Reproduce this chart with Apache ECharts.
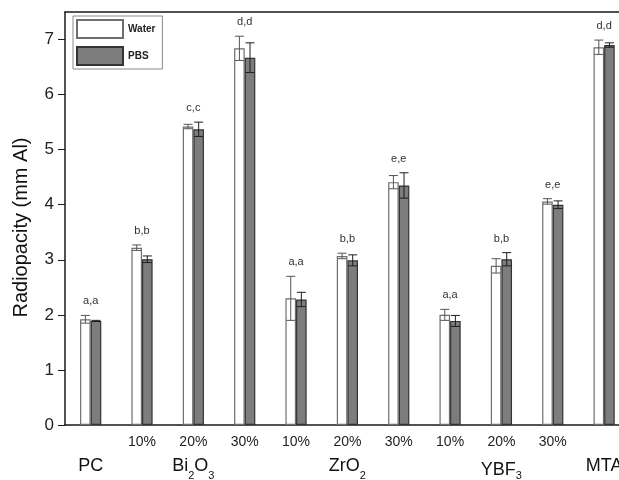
<!DOCTYPE html>
<html>
<head>
<meta charset="utf-8">
<script src="https://cdn.jsdelivr.net/npm/echarts@6/dist/echarts.min.js"></script>
<style>
html,body{margin:0;padding:0;background:#fff;}
#c{width:619px;height:480px;}
</style>
</head>
<body>
<div id="c"></div>
<script>
// ---- data ----
const percentLabels = ['', '10%', '20%', '30%', '10%', '20%', '30%', '10%', '20%', '30%', ''];
const groupLabels   = ['PC', '', 'Bi_2O_3', '', '', 'ZrO_2', '', '', 'YBF_3', '', 'MTA'];
const waterValues = [1.92, 3.22, 5.42, 6.84, 2.30, 3.07, 4.41, 2.00, 2.89, 4.06, 6.86];
const waterErrors = [0.07, 0.05, 0.04, 0.22, 0.40, 0.05, 0.12, 0.10, 0.13, 0.05, 0.13];
const pbsValues   = [1.89, 3.01, 5.37, 6.67, 2.28, 2.99, 4.35, 1.89, 3.01, 4.00, 6.90];
const pbsErrors   = [0.01, 0.06, 0.13, 0.27, 0.13, 0.10, 0.23, 0.10, 0.12, 0.07, 0.04];
const letters     = ['a,a', 'b,b', 'c,c', 'd,d', 'a,a', 'b,b', 'e,e', 'a,a', 'b,b', 'e,e', 'd,d'];
const yTicks = [0, 1, 2, 3, 4, 5, 6, 7];
const seriesNames = ['Water', 'PBS'];

const FONT = '"Liberation Sans", Arial, Helvetica, sans-serif';
const idx = waterValues.map((_, i) => i);
const BAR_W = 10.6;

function groupRich(s, low) {
  if (!s) return '';
  let out = '';
  const parts = s.split(/_(\d)/);
  parts.forEach((p, k) => {
    if (p === '') return;
    out += (k % 2 === 1) ? '{' + (low ? 's2' : 's') + '|' + p + '}' : '{' + (low ? 'g2' : 'g') + '|' + p + '}';
  });
  return out;
}

function errRender(offset, stroke) {
  return function (params, api) {
    const x = api.value(0), v = api.value(1), e = api.value(2);
    const top = api.coord([x, v + e]);
    const bot = api.coord([x, v - e]);
    const cx = top[0] + offset;
    const hw = 4.5;
    const st = { stroke: stroke, lineWidth: 1 };
    return {
      type: 'group',
      children: [
        { type: 'line', shape: { x1: cx, y1: top[1], x2: cx, y2: bot[1] }, style: st },
        { type: 'line', shape: { x1: cx - hw, y1: top[1], x2: cx + hw, y2: top[1] }, style: st },
        { type: 'line', shape: { x1: cx - hw, y1: bot[1], x2: cx + hw, y2: bot[1] }, style: st }
      ]
    };
  };
}

const X_MIN = -0.5, X_MAX = 10.29;

const chart = echarts.init(document.getElementById('c'), null, { renderer: 'canvas' });
const option = {
  animation: false,
  backgroundColor: '#fff',
  textStyle: { fontFamily: FONT },
  grid: { left: 65, right: 0, top: 12, bottom: 55, containLabel: false, outerBoundsMode: 'none' },
  legend: {
    data: seriesNames,
    orient: 'vertical',
    left: 73,
    top: 16,
    itemWidth: 46,
    itemHeight: 18,
    itemGap: 7,
    padding: [3, 7, 3, 3],
    borderColor: '#8a8a8a',
    borderWidth: 1,
    icon: 'rect',
    textStyle: { fontFamily: FONT, fontSize: 10, fontWeight: 'bold', color: '#222' }
  },
  xAxis: [{
    type: 'value',
    min: X_MIN,
    max: X_MAX,
    position: 'bottom',
    splitLine: { show: false },
    axisTick: { show: false },
    axisLine: { show: true, onZero: false, lineStyle: { color: '#1a1a1a', width: 1.5 } },
    axisLabel: {
      customValues: idx,
      margin: 8,
      interval: 0,
      hideOverlap: false,
      formatter: function (val) {
        const i = Math.round(val);
        const p = percentLabels[i] || ' ';
        return '{p|' + p + '}\n' + (groupRich(groupLabels[i], i === 8) || '{g| }');
      },
      rich: {
        p: { fontFamily: FONT, fontSize: 14, color: '#222', lineHeight: 18 },
        g: { fontFamily: FONT, fontSize: 18, color: '#111', lineHeight: 30 },
        s: { fontFamily: FONT, fontSize: 11, color: '#111', lineHeight: 30, verticalAlign: 'bottom', padding: [8, 0, 0, 0] },
        g2: { fontFamily: FONT, fontSize: 18, color: '#111', lineHeight: 30, padding: [8, 0, 0, 0] },
        s2: { fontFamily: FONT, fontSize: 11, color: '#111', lineHeight: 30, verticalAlign: 'bottom', padding: [14, 0, 0, 0] }
      }
    }
  }, {
    type: 'value',
    min: X_MIN,
    max: X_MAX,
    position: 'top',
    splitLine: { show: false },
    axisTick: { show: false },
    axisLabel: { show: false },
    axisLine: { show: true, onZero: false, lineStyle: { color: '#1a1a1a', width: 1.5 } }
  }],
  yAxis: {
    type: 'value',
    min: 0,
    max: 7.5,
    name: 'Radiopacity (mm Al)',
    nameLocation: 'middle',
    nameGap: 34,
    nameTextStyle: { fontFamily: FONT, fontSize: 20, color: '#111', padding: [0, 18, 0, 0] },
    splitLine: { show: false },
    axisLine: { show: true, onZero: false, lineStyle: { color: '#1a1a1a', width: 1.5 } },
    axisTick: { show: true, inside: false, length: 7, customValues: yTicks, lineStyle: { color: '#1a1a1a', width: 1 } },
    axisLabel: { customValues: yTicks, fontFamily: FONT, fontSize: 17, color: '#222', margin: 11 }
  },
  series: [{
    name: 'Water',
    type: 'bar',
    barWidth: BAR_W,
    barGap: '0%',
    data: idx.map(i => [i, waterValues[i]]),
    itemStyle: { color: '#ffffff', borderColor: '#6e6e6e', borderWidth: 1.2 }
  }, {
    name: 'PBS',
    type: 'bar',
    barWidth: BAR_W,
    barGap: '0%',
    data: idx.map(i => [i, pbsValues[i]]),
    itemStyle: { color: '#7d7d7d', borderColor: '#333333', borderWidth: 1.2 }
  }, {
    type: 'custom',
    name: 'Water error',
    renderItem: errRender(-BAR_W / 2, '#555'),
    encode: { x: 0, y: 1 },
    data: idx.map(i => [i, waterValues[i], waterErrors[i]]),
    z: 5
  }, {
    type: 'custom',
    name: 'PBS error',
    renderItem: errRender(BAR_W / 2, '#1e1e1e'),
    encode: { x: 0, y: 1 },
    data: idx.map(i => [i, pbsValues[i], pbsErrors[i]]),
    z: 5
  }, {
    type: 'custom',
    name: 'letters',
    renderItem: function (params, api) {
      const i = api.value(0);
      const top = api.coord([i, api.value(1)]);
      return {
        type: 'text',
        x: top[0], y: top[1] - 14,
        style: { text: letters[i], fontFamily: FONT, fontSize: 11, fill: '#333', align: 'center', verticalAlign: 'middle' }
      };
    },
    encode: { x: 0, y: 1 },
    data: idx.map(i => [i, Math.max(waterValues[i] + waterErrors[i], pbsValues[i] + pbsErrors[i])]),
    z: 6
  }]
};
chart.setOption(option);
</script>
</body>
</html>
